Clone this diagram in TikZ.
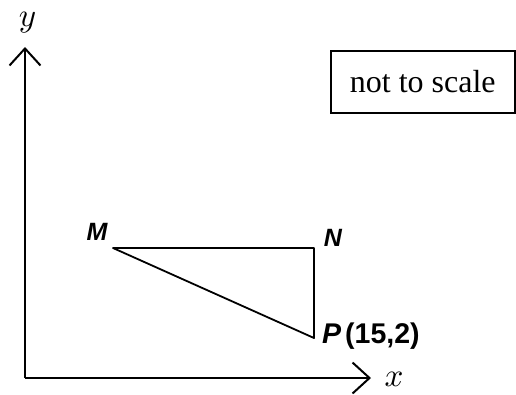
\documentclass[tikz,border=0pt]{standalone}
\usepackage{fontspec}
\setmainfont{Liberation Serif}
\newfontfamily\lblfont{Liberation Sans}
\font\axfont=cmmi10 at 33pt
\usetikzlibrary{arrows.meta}
\begin{document}
\begin{tikzpicture}[x=1pt,y=-1pt,
  axisline/.style={line width=2pt,-{Straight Barb[length=17pt,width=31pt,line width=2pt]}},
  edge/.style={line width=1.8pt,line join=round},
  ptlabel/.style={font=\lblfont\bfseries\itshape\fontsize{25}{25}\selectfont,inner sep=0pt},
  axlabel/.style={font=\axfont,inner sep=0pt}]
\useasboundingbox (0,0) rectangle (516,394);
\coordinate (O) at (25,378);
\coordinate (ytip) at (25,47);
\coordinate (xtip) at (371,378);
\draw[axisline] (O) -- (ytip);
\draw[axisline] (O) -- (xtip);
\node[axlabel] (ylab) at (27,23) {y};
\node[axlabel] (xlab) at (394,379) {x};
\coordinate (M) at (113,248);
\coordinate (N) at (314,248);
\coordinate (P) at (314,338);
\draw[edge] (M) -- (N) -- (P) -- cycle;
\node[ptlabel] (Ml) at (97,232) {M};
\node[ptlabel] (Nl) at (333,238) {N};
\node[ptlabel,anchor=west,font=\lblfont\bfseries\itshape\fontsize{28.5}{28.5}\selectfont] (Pl) at (322,336) {P\kern4pt\normalfont\lblfont\bfseries(15,2)};
\node[draw,line width=1.6pt,minimum width=184pt,minimum height=62pt,inner sep=0pt,anchor=north west,font=\fontsize{32}{32}\selectfont] (box) at (330,50) {not to scale};
\end{tikzpicture}
\end{document}
